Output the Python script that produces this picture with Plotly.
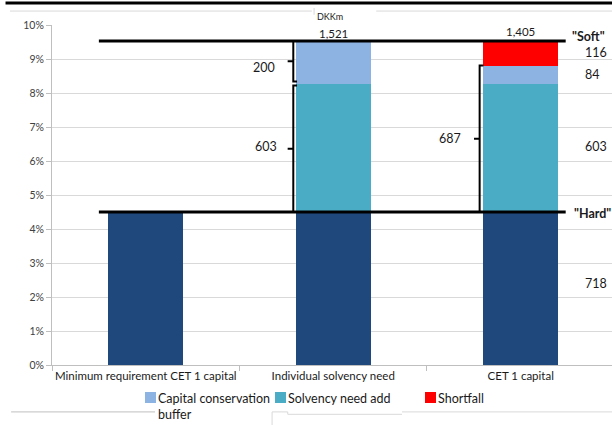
import plotly.graph_objects as go

# Categories and amounts (DKKm)
categories = ["Minimum requirement CET 1 capital", "Individual solvency need", "CET 1 capital"]
hard_core = [718, 718, 718]          # 4.5% minimum requirement
solvency_add = [0, 603, 603]         # solvency need add-on
conservation_buffer = [0, 200, 84]   # capital conservation buffer
shortfall = [0, 0, 116]              # shortfall
totals = [None, 1521, 1405]

# Minimum requirement ratio corresponding to the 718 DKKm base
min_ratio_pct = 4.5
dkk_per_pct = hard_core[0] / min_ratio_pct


def pct(v):
    return v / dkk_per_pct


DARK = "#1F497D"
TEAL = "#4BACC6"
LIGHT = "#8DB3E2"
RED = "#FF0000"
FONT = "Lato"

fig = go.Figure()
series = [
    ("CET 1 minimum", hard_core, DARK),
    ("Solvency need add", solvency_add, TEAL),
    ("Capital conservation buffer", conservation_buffer, LIGHT),
    ("Shortfall", shortfall, RED),
]
for name, vals, col in series:
    fig.add_trace(go.Bar(
        x=categories, y=[pct(v) for v in vals], name=name,
        marker=dict(color=col, line=dict(width=0)),
        width=0.4, showlegend=False, hoverinfo="skip",
    ))

soft_level = pct(hard_core[1] + solvency_add[1] + conservation_buffer[1])
hard_level = pct(hard_core[0])

shapes = []
# "Soft" and "Hard" requirement lines
for lvl in (soft_level, hard_level):
    shapes.append(dict(type="line", xref="x", yref="y", x0=-0.25, x1=2.24,
                       y0=lvl, y1=lvl, line=dict(color="black", width=3)))


def bracket(x, y0, y1, hook=0.02, tick=0.03):
    ym = (y0 + y1) / 2
    path = (f"M {x + hook},{y0} L {x},{y0} L {x},{y1} L {x + hook},{y1} "
            f"M {x},{ym} L {x - tick},{ym}")
    return dict(type="path", xref="x", yref="y", path=path,
                line=dict(color="black", width=2))


gap = 0.06
b2 = pct(hard_core[1] + solvency_add[1])
shapes.append(bracket(0.787, pct(hard_core[1] + solvency_add[1] + conservation_buffer[1]), b2 + gap))
shapes.append(bracket(0.787, b2 - gap, hard_level))
shapes.append(bracket(1.781, pct(totals[2]), hard_level))

# page rules above and below the chart
shapes += [
    dict(type="line", xref="paper", yref="paper", x0=-0.083, x1=1.0, y0=1.0647, y1=1.0647,
         line=dict(color="black", width=3)),
    dict(type="line", xref="paper", yref="paper", x0=-0.075, x1=0.464, y0=1.041, y1=1.041,
         line=dict(color="#d9d9d9", width=1)),
    dict(type="line", xref="paper", yref="paper", x0=0.579, x1=1.0, y0=1.041, y1=1.041,
         line=dict(color="#d9d9d9", width=1)),
    dict(type="line", xref="paper", yref="paper", x0=0.468, x1=0.468, y0=1.03, y1=1.05,
         line=dict(color="#d9d9d9", width=1)),
    dict(type="line", xref="paper", yref="paper", x0=-0.073, x1=0.184, y0=-0.138, y1=-0.138,
         line=dict(color="#bfbfbf", width=1)),
    dict(type="line", xref="paper", yref="paper", x0=0.625, x1=1.0, y0=-0.138, y1=-0.138,
         line=dict(color="#d9d9d9", width=1)),
    dict(type="path", xref="paper", yref="paper",
         path="M 0.393,-0.177 L 0.393,-0.138 L 0.421,-0.138 L 0.421,-0.145 L 0.625,-0.145",
         line=dict(color="#d9d9d9", width=1)),
]


def px_x(px):
    return (px - 52) / 560


def px_y(py):
    return (365 - py) / 340


# custom legend
legend_items = [
    (145, "Capital conservation<br>buffer", LIGHT),
    (275, "Solvency need add", TEAL),
    (425, "Shortfall", RED),
]
annotations = []
for x0, label, col in legend_items:
    shapes.append(dict(type="rect", xref="paper", yref="paper",
                       x0=px_x(x0), x1=px_x(x0 + 11), y0=px_y(403), y1=px_y(392),
                       fillcolor=col, line=dict(width=0)))
    annotations.append(dict(xref="paper", yref="paper", x=px_x(x0 + 11), y=px_y(389),
                            xanchor="left", yanchor="top", align="left", text=label,
                            showarrow=False, font=dict(size=12.5, color="#1a1a1a", family=FONT)))

annotations.append(dict(xref="paper", yref="paper", x=px_x(330), y=px_y(16), text="DKKm",
                        showarrow=False, xanchor="center", yanchor="middle",
                        font=dict(size=9, color="#1a1a1a", family=FONT)))


def note(x, y, text, xanchor="center", size=11, bold=False):
    t = f"<b>{text}</b>" if bold else text
    annotations.append(dict(xref="x", yref="y", x=x, y=y, text=t, showarrow=False,
                            xanchor=xanchor, yanchor="middle",
                            font=dict(size=size, color="#1a1a1a", family=FONT)))


note(1, 9.76, f"{totals[1]:,}", size=11.5)
note(2, 9.82, f"{totals[2]:,}", size=11.5)
note(2.262, 9.66, '"Soft"', xanchor="left", size=12.5, bold=True)
note(2.272, 4.45, '"Hard"', xanchor="left", size=12.5, bold=True)
note(2.33, 9.2, f"{shortfall[2]}", xanchor="left", size=12.5)
note(2.33, 8.55, f"{conservation_buffer[2]}", xanchor="left", size=12.5)
note(2.33, 6.42, f"{solvency_add[2]}", xanchor="left", size=12.5)
note(2.33, 2.41, f"{hard_core[2]}", xanchor="left", size=12.5)
note(0.7, 8.75, f"{conservation_buffer[1]}", xanchor="right", size=12.5)
note(0.71, 6.43, f"{solvency_add[1]}", xanchor="right", size=12.5)
note(1.69, 6.65, f"{solvency_add[2] + conservation_buffer[2]}", xanchor="right", size=12.5)

fig.update_layout(
    width=612, height=425,
    margin=dict(l=52, r=0, t=25, b=60, autoexpand=False),
    barmode="stack",
    plot_bgcolor="white", paper_bgcolor="white",
    font=dict(family=FONT, size=11, color="#1a1a1a"),
    shapes=shapes, annotations=annotations,
    showlegend=False,
)
fig.update_xaxes(
    range=[-0.5, 2.487], tickson="boundaries", ticks="outside", ticklen=5,
    tickcolor="#bfbfbf", showline=True, linecolor="#bfbfbf", linewidth=1,
    showgrid=False, tickangle=0, automargin=False,
    tickfont=dict(size=11.5, family=FONT, color="#1a1a1a"),
)
fig.update_yaxes(
    range=[0, 10], dtick=1, ticksuffix="%", ticks="outside", ticklen=5,
    tickcolor="#bfbfbf", showline=True, linecolor="#bfbfbf", linewidth=1,
    showgrid=True, gridcolor="#d9d9d9", zeroline=False, automargin=False,
    tickfont=dict(size=10.5, family=FONT, color="#404040"),
)

fig.write_html("out.html")
